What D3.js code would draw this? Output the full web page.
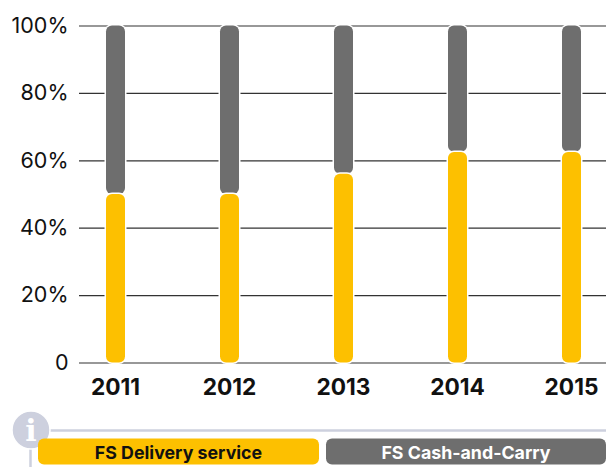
<!DOCTYPE html>
<html>
<head>
<meta charset="utf-8">
<script src="https://cdn.jsdelivr.net/npm/d3@7"></script>
<style>
  html, body { margin: 0; padding: 0; background: #fff; }
  svg { display: block; }
  svg text { font-family: Inter, Roboto, sans-serif; }
  .axis-y text { font-size: 21.5px; fill: #111; }
  .axis-x text { font-size: 22.7px; font-weight: 700; fill: #111; }
  .axis path { display: none; }
  .legend text { font-size: 17.8px; font-weight: 700; }
  text.info-glyph { font-family: "DejaVu Serif", serif; }
</style>
</head>
<body>
<svg class="chart" width="606" height="467"></svg>
<script>
const years = ['2011', '2012', '2013', '2014', '2015'];
const delivery = [50, 50, 56, 62.5, 62.5];
const cashCarry = [50, 50, 44, 37.5, 37.5];
const yTicks = [0, 20, 40, 60, 80, 100];
const legendLabels = ['FS Delivery service', 'FS Cash-and-Carry'];

const YELLOW = '#fdc000';
const GRAY = '#6e6e6e';
const INFO = '#cdd0de';
const WIDTH = 606;
const TOP = 25.5;
const BOTTOM = 362.5;
const AXIS_LEFT = 79;

const svg = d3.select('svg.chart');

const x = d3.scaleBand()
  .domain(years)
  .range([58.5, 628.5])
  .paddingInner(95 / 114)
  .paddingOuter(95 / 228);

const y = d3.scaleLinear()
  .domain([0, 100])
  .range([BOTTOM, TOP]);

const yAxis = svg.append('g')
  .attr('class', 'axis axis-y')
  .attr('transform', `translate(${AXIS_LEFT},0)`)
  .call(d3.axisLeft(y)
    .tickValues(yTicks)
    .tickSize(0)
    .tickPadding(10.5)
    .tickFormat(d => (d === 0 ? '0' : `${d}%`)));

yAxis.selectAll('.tick line')
  .attr('x2', WIDTH - AXIS_LEFT)
  .attr('stroke', '#333')
  .attr('stroke-width', 1.2);

svg.append('g')
  .attr('class', 'axis axis-x')
  .attr('transform', `translate(0,${BOTTOM})`)
  .call(d3.axisBottom(x).tickSize(0).tickPadding(16.5));

const seriesRows = years.map((year, i) => ({ year, delivery: delivery[i], cashCarry: cashCarry[i] }));
const stacked = d3.stack().keys(['delivery', 'cashCarry'])(seriesRows);
const colors = { delivery: YELLOW, cashCarry: GRAY };

// gray goes first so the yellow cap sits on top of it with its white outline
svg.append('g').selectAll('g')
  .data(stacked.slice().reverse())
  .enter()
.append('g')
  .attr('fill', d => colors[d.key])
  .selectAll('rect')
  .data(d => d)
  .enter()
.append('rect')
  .attr('x', d => x(d.data.year))
  .attr('y', d => y(d[1]))
  .attr('width', x.bandwidth())
  .attr('height', d => y(d[0]) - y(d[1]))
  .attr('rx', 6)
  .attr('stroke', '#fff')
  .attr('stroke-width', 3)
  .attr('paint-order', 'stroke');

// info rule, badge and legend
const info = svg.append('g');
info.append('line')
  .attr('x1', 50).attr('x2', WIDTH)
  .attr('y1', 430.5).attr('y2', 430.5)
  .attr('stroke', INFO).attr('stroke-width', 2.5);
info.append('line')
  .attr('x1', 30.5).attr('x2', 30.5)
  .attr('y1', 449).attr('y2', 467)
  .attr('stroke', INFO).attr('stroke-width', 2.5);
info.append('circle')
  .attr('cx', 31).attr('cy', 430).attr('r', 19)
  .attr('fill', INFO).attr('stroke', '#fff').attr('stroke-width', 1.5);
info.append('text')
  .attr('class', 'info-glyph')
  .attr('x', 31).attr('y', 441)
  .attr('text-anchor', 'middle')
  .attr('font-size', 30)
  .attr('font-weight', 700)
  .attr('fill', '#fff')
  .text('i');

const legendX = d3.scaleOrdinal().domain(legendLabels).range([38, 326]);
const legendW = d3.scaleOrdinal().domain(legendLabels).range([281, 280]);
const legendFill = d3.scaleOrdinal().domain(legendLabels).range([YELLOW, GRAY]);
const legendText = d3.scaleOrdinal().domain(legendLabels).range(['#111', '#fff']);

const legend = svg.append('g').attr('class', 'legend')
  .selectAll('g')
  .data(legendLabels)
  .enter()
.append('g');

legend.append('rect')
  .attr('x', d => legendX(d))
  .attr('y', 438.5)
  .attr('width', d => legendW(d))
  .attr('height', 26)
  .attr('rx', 6)
  .attr('fill', d => legendFill(d));

legend.append('text')
  .attr('x', d => legendX(d) + legendW(d) / 2)
  .attr('y', 459)
  .attr('text-anchor', 'middle')
  .attr('fill', d => legendText(d))
  .text(d => d);
</script>
</body>
</html>
